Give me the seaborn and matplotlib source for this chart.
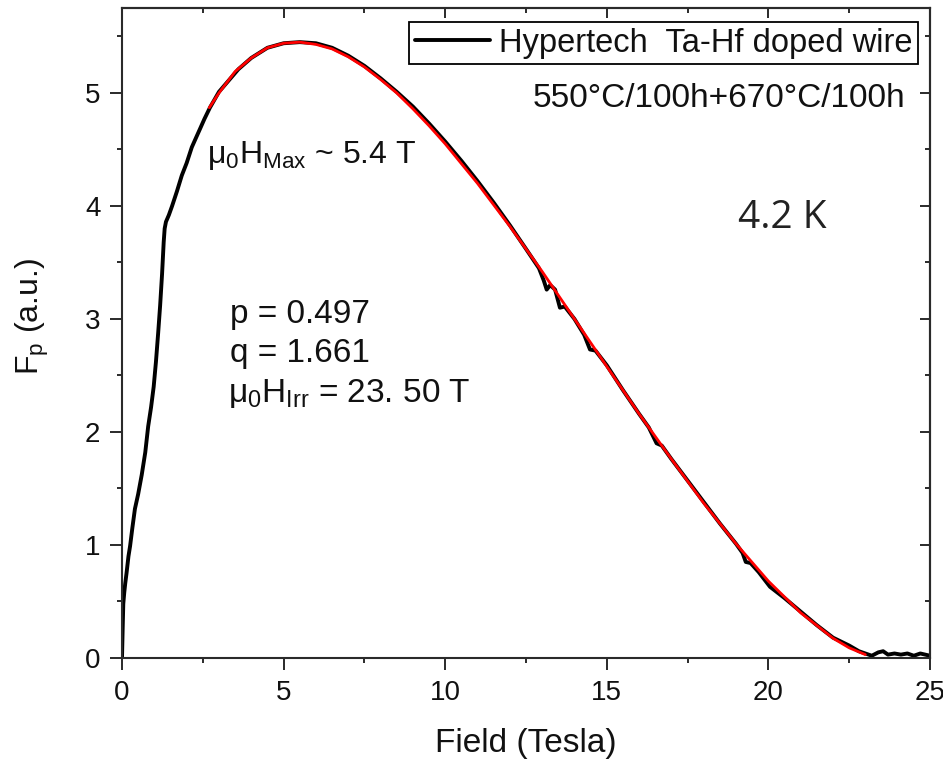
import matplotlib
matplotlib.use("Agg")
import matplotlib.pyplot as plt
import seaborn as sns
import pandas as pd
from matplotlib.ticker import MultipleLocator

black_field = [0.00, 0.02, 0.04, 0.07, 0.10, 0.14, 0.20, 0.25, 0.32, 0.40, 0.50, 0.61,
               0.72, 0.81, 0.90, 0.98, 1.05, 1.12, 1.18, 1.24, 1.29, 1.32, 1.36, 1.45,
               1.55, 1.70, 1.85, 2.00, 2.16, 2.30, 2.41, 2.55, 2.72, 3.00, 3.30, 3.60,
               4.00, 4.50, 5.00, 5.50, 6.00, 6.50, 7.00, 7.50, 8.00, 8.50, 9.00, 9.50,
               10.00, 10.50, 11.00, 11.50, 12.00, 12.50, 12.90, 13.05, 13.14, 13.25,
               13.40, 13.55, 13.70, 14.00, 14.30, 14.48, 14.65, 15.00, 15.50, 16.00,
               16.30, 16.54, 16.70, 17.00, 17.50, 18.00, 18.50, 19.00, 19.20, 19.30,
               19.45, 19.70, 20.05, 20.50, 21.00, 21.50, 22.00, 22.50, 22.80, 23.00,
               23.20, 23.40, 23.55, 23.70, 23.90, 24.10, 24.30, 24.50, 24.70, 24.85, 25.00]
black_fp = [0.00, 0.25, 0.48, 0.58, 0.66, 0.75, 0.90, 0.99, 1.15, 1.32, 1.45, 1.62,
            1.82, 2.05, 2.22, 2.40, 2.62, 2.88, 3.12, 3.40, 3.68, 3.80, 3.86, 3.92,
            4.00, 4.13, 4.27, 4.38, 4.52, 4.61, 4.68, 4.77, 4.87, 5.01, 5.11, 5.21,
            5.31, 5.40, 5.44, 5.45, 5.44, 5.40, 5.33, 5.24, 5.13, 5.01, 4.88, 4.73,
            4.57, 4.40, 4.22, 4.03, 3.83, 3.62, 3.45, 3.34, 3.26, 3.30, 3.26, 3.10,
            3.11, 3.00, 2.86, 2.73, 2.72, 2.59, 2.37, 2.16, 2.04, 1.90, 1.88, 1.76,
            1.57, 1.38, 1.19, 1.01, 0.93, 0.85, 0.84, 0.76, 0.63, 0.53, 0.41, 0.29,
            0.18, 0.11, 0.06, 0.04, 0.02, 0.05, 0.06, 0.03, 0.04, 0.03, 0.04, 0.02,
            0.04, 0.03, 0.02]

# ---- fitted curve ----
fit_field = [2.70, 3.0, 3.5, 4.0, 4.5, 5.0, 5.5, 6.0, 6.5, 7.0, 7.5, 8.0, 8.5, 9.0, 9.5,
             10.0, 11.0, 12.0, 13.0, 14.0, 15.0, 16.0, 17.0, 18.0, 19.0, 20.0, 21.0,
             22.0, 22.5, 23.0]
fit_fp = [4.87, 5.00, 5.19, 5.31, 5.40, 5.44, 5.45, 5.43, 5.39, 5.32, 5.23, 5.12, 5.00,
          4.86, 4.71, 4.55, 4.20, 3.82, 3.42, 3.00, 2.58, 2.16, 1.76, 1.37, 1.01, 0.68,
          0.40, 0.175, 0.09, 0.03]

x_ticks = [0, 5, 10, 15, 20, 25]
y_ticks = [0, 1, 2, 3, 4, 5]

sns.set_theme(style="ticks")
plt.rcParams["font.family"] = ["Liberation Sans", "DejaVu Sans"]
plt.rcParams["mathtext.fontset"] = "custom"
plt.rcParams["mathtext.rm"] = "Liberation Sans"
plt.rcParams["mathtext.it"] = "Liberation Sans:italic"
plt.rcParams["mathtext.bf"] = "Liberation Sans:bold"
plt.rcParams["mathtext.default"] = "regular"

fig = plt.figure(figsize=(9.43, 7.6), dpi=100)
ax = fig.add_axes([122 / 943, 1 - 658 / 760, 808 / 943, 650 / 760])

df_black = pd.DataFrame({"Field": black_field, "Fp": black_fp})
df_fit = pd.DataFrame({"Field": fit_field, "Fp": fit_fp})

sns.lineplot(data=df_black, x="Field", y="Fp", ax=ax, color="black", lw=2.8,
             estimator=None, sort=False, legend=False)
sns.lineplot(data=df_fit, x="Field", y="Fp", ax=ax, color="#ff0000", lw=2.0,
             estimator=None, sort=False, legend=False)

ax.set_xlim(0, 25)
ax.set_ylim(0, 5.752)
ax.set_xticks(x_ticks)
ax.set_yticks(y_ticks)
ax.set_xticklabels([str(t) for t in x_ticks])
ax.set_yticklabels([str(t) for t in y_ticks])
ax.xaxis.set_minor_locator(MultipleLocator(2.5))
ax.yaxis.set_minor_locator(MultipleLocator(0.5))

spine_col = "#2a2a2a"
for s in ax.spines.values():
    s.set_visible(True)
    s.set_linewidth(1.5)
    s.set_color(spine_col)

ax.tick_params(which="major", direction="out", length=8.5, width=1.4, color=spine_col,
               labelsize=20, pad=7, labelcolor="#111111")
ax.tick_params(which="minor", direction="out", length=3.8, width=1.4, color=spine_col)
ax.tick_params(top=False, right=False, which="both")

top = ax.secondary_xaxis("top")
top.set_xticks(x_ticks)
top.xaxis.set_minor_locator(MultipleLocator(2.5))
top.tick_params(which="major", direction="in", length=7.5, width=1.4, color=spine_col,
                labeltop=False)
top.tick_params(which="minor", direction="in", length=3.8, width=1.4, color=spine_col)
top.spines["top"].set_linewidth(1.5)
top.spines["top"].set_color(spine_col)

right = ax.secondary_yaxis("right")
right.set_yticks(y_ticks)
right.yaxis.set_minor_locator(MultipleLocator(0.5))
right.tick_params(which="major", direction="in", length=7.5, width=1.4, color=spine_col,
                  labelright=False)
right.tick_params(which="minor", direction="in", length=3.8, width=1.4, color=spine_col)
right.spines["right"].set_linewidth(1.5)
right.spines["right"].set_color(spine_col)

ax.set_xlabel("Field (Tesla)", fontsize=24, color="#111111")
ax.xaxis.set_label_coords(0.5, -0.131)
ax.xaxis.label.set_va("center")
ax.set_ylabel(r"$F_p$ (a.u.)", fontsize=23, color="#111111")
ax.yaxis.set_label_coords(-0.111, 0.525)
ax.yaxis.label.set_va("center")

leg = ax.legend(handles=[ax.lines[0]], labels=["Hypertech  Ta-Hf doped wire"],
                loc="upper right", bbox_to_anchor=(0.985, 0.979),
                bbox_transform=ax.transAxes, borderaxespad=0, frameon=True,
                fancybox=False, framealpha=1, edgecolor="black", fontsize=23.5,
                handlelength=2.3, handletextpad=0.25, borderpad=0.18)
leg.get_frame().set_linewidth(1.3)
for t in leg.get_texts():
    t.set_color("#111111")

ax.text(0.970, 0.8615, "550°C/100h+670°C/100h", transform=ax.transAxes,
        ha="right", va="center", fontsize=24, color="#111111")
ax.text(0.105, 0.7615, r"$\mu_0H_{Max}$ ~ 5.4 T", transform=ax.transAxes,
        ha="left", va="baseline", fontsize=23, color="#111111")
ax.text(0.1337, 0.515, "p = 0.497", transform=ax.transAxes,
        ha="left", va="baseline", fontsize=24, color="#111111")
ax.text(0.1337, 0.456, "q = 1.661", transform=ax.transAxes,
        ha="left", va="baseline", fontsize=24, color="#111111")
ax.text(0.131, 0.394, r"$\mu_0H_{Irr}$ = 23. 50 T", transform=ax.transAxes,
        ha="left", va="baseline", fontsize=24, color="#111111")
ax.text(0.817, 0.677, "4.2 K", transform=ax.transAxes, ha="center", va="center",
        fontsize=28, color="#222222", family=["Open Sans", "DejaVu Sans"])

fig.savefig("out.png", dpi=100)
